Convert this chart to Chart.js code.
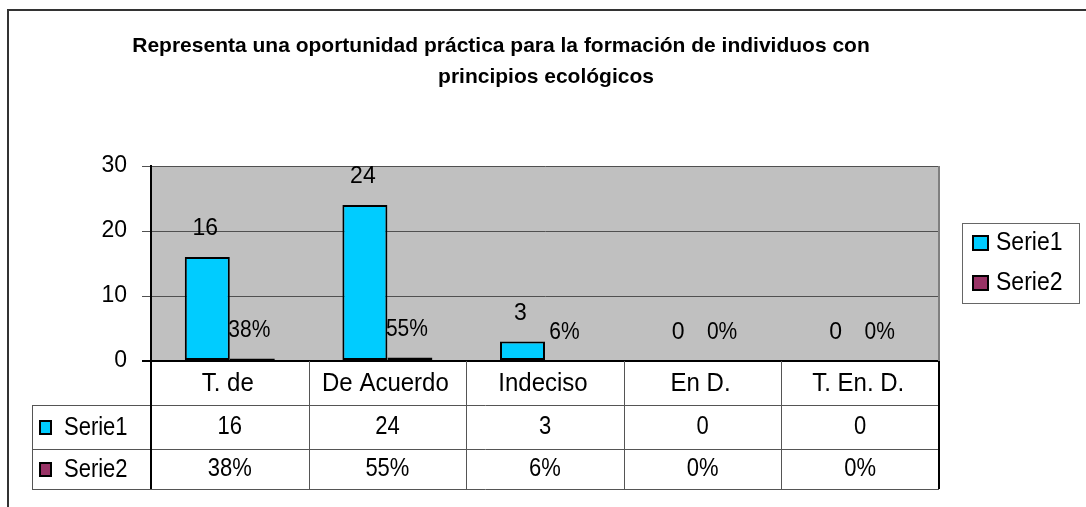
<!DOCTYPE html>
<html>
<head>
<meta charset="utf-8">
<script src="https://cdn.jsdelivr.net/npm/chart.js@4/dist/chart.umd.min.js"></script>
<style>
  body { margin: 0; background: #fff; }
  canvas { display: block; }
</style>
</head>
<body>
<canvas id="chart" width="1086" height="507"></canvas>
<script>
const titleLines = ["Representa una oportunidad práctica para la formación de individuos con", "principios ecológicos"];
const categories = ["T. de", "De Acuerdo", "Indeciso", "En D.", "T. En. D."];
const serie1 = [16, 24, 3, 0, 0];
const serie2 = [0.38, 0.55, 0.06, 0, 0];
const seriesNames = ["Serie1", "Serie2"];
const seriesColors = ["#00CCFF", "#993366"];
const yTicks = [0, 10, 20, 30];

const FONT = "'Liberation Sans', Arial, sans-serif";
const pct = (v) => Math.round(v * 100) + "%";
const fmt = [(v) => String(v), pct];

// text a bit taller than wide, like the table cells in the original
function tallText(ctx, t, x, y, k) {
  ctx.save();
  ctx.translate(x, y);
  ctx.scale(1, k);
  ctx.fillText(t, 0, 0);
  ctx.restore();
}

// plot background + frame
const backdrop = {
  id: "backdrop",
  beforeDraw(chart) {
    const { ctx, chartArea: a } = chart;
    ctx.save();
    ctx.fillStyle = "#C0C0C0";
    ctx.fillRect(a.left, a.top, a.right - a.left, a.bottom - a.top);
    ctx.strokeStyle = "#333";
    ctx.lineWidth = 2;
    ctx.beginPath();
    ctx.moveTo(8, 507);
    ctx.lineTo(8, 10);
    ctx.lineTo(1086, 10);
    ctx.stroke();
    ctx.restore();
  }
};

// bar value labels
const valueLabels = {
  id: "valueLabels",
  afterDatasetsDraw(chart) {
    const { ctx } = chart;
    ctx.save();
    ctx.fillStyle = "#000";
    ctx.textAlign = "center";
    ctx.textBaseline = "middle";
    chart.data.datasets.forEach((ds, di) => {
      ctx.font = (di === 0 ? "23px " : "21px ") + FONT;
      chart.getDatasetMeta(di).data.forEach((bar, i) => {
        tallText(ctx, fmt[di](ds.data[i]), bar.x + (di === 1 ? -3 : -2), bar.y - 28, di === 0 ? 1.02 : 1.1);
      });
    });
    ctx.restore();
  }
};

// title, legend, data table
const extras = {
  id: "extras",
  afterDraw(chart) {
    const { ctx, chartArea: a } = chart;
    const x = chart.scales.x;
    ctx.save();

    // title
    ctx.fillStyle = "#000";
    ctx.font = "bold 21px " + FONT;
    ctx.textAlign = "center";
    ctx.textBaseline = "alphabetic";
    ctx.fillText(titleLines[0], 501, 52);
    ctx.fillText(titleLines[1], 546, 83);

    // right border of plot
    ctx.strokeStyle = "#808080";
    ctx.lineWidth = 2;
    ctx.beginPath();
    ctx.moveTo(a.right, a.top);
    ctx.lineTo(a.right, a.bottom);
    ctx.stroke();

    // legend
    ctx.strokeStyle = "#666";
    ctx.lineWidth = 1;
    ctx.strokeRect(962.5, 223.5, 117, 80);
    ctx.font = "23px " + FONT;
    ctx.textAlign = "left";
    ctx.textBaseline = "middle";
    seriesNames.forEach((name, i) => {
      const y = 243 + i * 40;
      ctx.fillStyle = seriesColors[i];
      ctx.fillRect(973, y - 7, 15, 14);
      ctx.strokeStyle = "#000";
      ctx.lineWidth = 2;
      ctx.strokeRect(973, y - 7, 15, 14);
      ctx.fillStyle = "#000";
      tallText(ctx, name, 996, y, 1.1);
    });

    // data table
    const rows = [a.bottom, 405, 449, 489];
    const colW = (x.right - x.left) / categories.length;
    ctx.strokeStyle = "#555";
    ctx.lineWidth = 1;
    ctx.beginPath();
    for (let r = 1; r < rows.length; r++) {
      ctx.moveTo(32, rows[r] + 0.5);
      ctx.lineTo(a.right, rows[r] + 0.5);
    }
    ctx.moveTo(32.5, rows[1]);
    ctx.lineTo(32.5, rows[3]);
    for (let c = 1; c < categories.length; c++) {
      const cx = Math.round(x.left + c * colW) + 0.5;
      ctx.moveTo(cx, rows[0]);
      ctx.lineTo(cx, rows[3]);
    }
    ctx.stroke();
    ctx.strokeStyle = "#000";
    ctx.lineWidth = 2;
    ctx.beginPath();
    ctx.moveTo(a.left, rows[0]);
    ctx.lineTo(a.left, rows[3]);
    ctx.moveTo(a.right, rows[0]);
    ctx.lineTo(a.right, rows[3]);
    ctx.stroke();

    ctx.fillStyle = "#000";
    ctx.textAlign = "center";
    ctx.font = "24px " + FONT;
    categories.forEach((c, i) => {
      tallText(ctx, c, x.getPixelForValue(i) - 2, 384, 1.05);
    });
    ctx.font = "22px " + FONT;
    const tableRows = [serie1, serie2];
    tableRows.forEach((vals, r) => {
      const cy = (rows[r + 1] + rows[r + 2]) / 2;
      vals.forEach((v, i) => {
        tallText(ctx, fmt[r](v), x.getPixelForValue(i), cy, 1.2);
      });
      ctx.fillStyle = seriesColors[r];
      ctx.fillRect(40, cy - 6, 11, 13);
      ctx.strokeStyle = "#000";
      ctx.lineWidth = 2;
      ctx.strokeRect(40, cy - 6, 11, 13);
      ctx.fillStyle = "#000";
      ctx.textAlign = "left";
      tallText(ctx, seriesNames[r], 64, cy + 1, 1.15);
      ctx.textAlign = "center";
    });
    ctx.restore();
  }
};

new Chart(document.getElementById("chart"), {
  type: "bar",
  data: {
    labels: categories,
    datasets: [
      { label: seriesNames[0], data: serie1, backgroundColor: seriesColors[0] },
      { label: seriesNames[1], data: serie2, backgroundColor: seriesColors[1] }
    ]
  },
  options: {
    responsive: false,
    devicePixelRatio: 1,
    animation: false,
    layout: { padding: { top: 166, right: 147, bottom: 146, left: 0 } },
    datasets: {
      bar: {
        barPercentage: 1,
        categoryPercentage: 0.571,
        borderColor: "#000",
        borderWidth: (c) => (c.raw ? 2 : 0),
        borderSkipped: false
      }
    },
    scales: {
      x: { display: false },
      y: {
        min: 0,
        max: 30,
        afterFit: (s) => { s.width = 151; },
        afterBuildTicks: (s) => { s.ticks = yTicks.map((v) => ({ value: v })); },
        ticks: { color: "#000", font: { family: FONT, size: 23 }, padding: 15 },
        grid: {
          tickLength: 9,
          color: (c) => (c.tick && c.tick.value === 0 ? "#000" : "#505050"),
          lineWidth: (c) => (c.tick && c.tick.value === 0 ? 2 : 1)
        },
        border: { color: "#000", width: 2 }
      }
    },
    plugins: {
      legend: { display: false },
      title: { display: false },
      tooltip: { enabled: false }
    }
  },
  plugins: [backdrop, valueLabels, extras]
});
</script>
</body>
</html>
